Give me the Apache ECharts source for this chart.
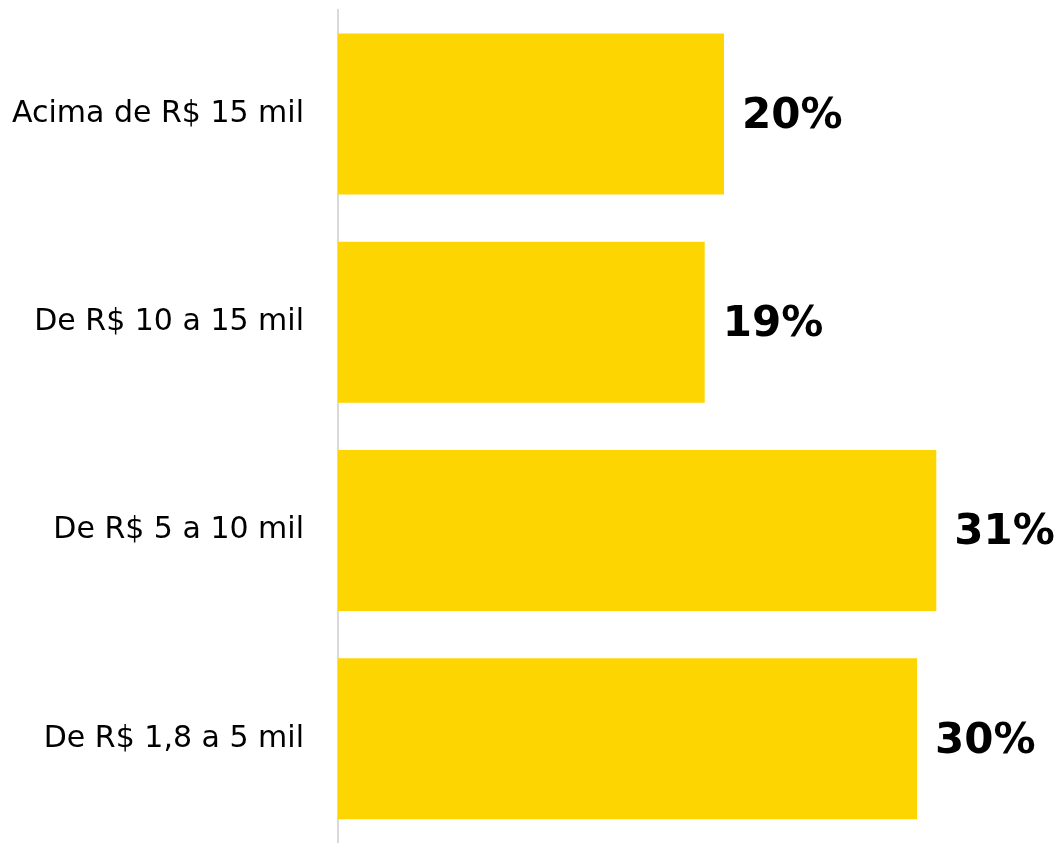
<!DOCTYPE html>
<html>
<head>
<meta charset="utf-8">
<script src="https://cdn.jsdelivr.net/npm/echarts@6/dist/echarts.min.js"></script>
<style>
  html, body { margin: 0; padding: 0; background: #fff; }
  #chart { width: 1062px; height: 843px; }
</style>
</head>
<body>
<div id="chart"></div>
<script>
// faixas de renda (de baixo para cima no eixo)
const categories = ['De R$ 1,8 a 5 mil', 'De R$ 5 a 10 mil', 'De R$ 10 a 15 mil', 'Acima de R$ 15 mil'];
const values = [30, 31, 19, 20];

const chart = echarts.init(document.getElementById('chart'));

const option = {
  animation: false,
  grid: {
    left: 338,
    top: 9.8,
    width: 675.5,
    height: 837.6,
  },
  xAxis: {
    type: 'value',
    min: 0,
    max: 35,
    show: false,
  },
  yAxis: {
    type: 'category',
    data: categories,
    axisLine: {
      show: true,
      lineStyle: { color: '#d9d9d9', width: 2 },
    },
    axisTick: { show: false },
    axisLabel: {
      color: '#000',
      fontSize: 30,
      fontFamily: 'DejaVu Sans',
      margin: 34,
    },
  },
  series: [
    {
      type: 'bar',
      data: values,
      barWidth: 161,
      itemStyle: { color: '#FDD500' },
      label: {
        show: true,
        position: 'right',
        distance: 18,
        offset: [0, 3],
        formatter: '{c}%',
        color: '#000',
        fontSize: 42,
        fontWeight: 'bold',
        fontFamily: 'DejaVu Sans',
      },
    },
  ],
};

chart.setOption(option);
</script>
</body>
</html>
